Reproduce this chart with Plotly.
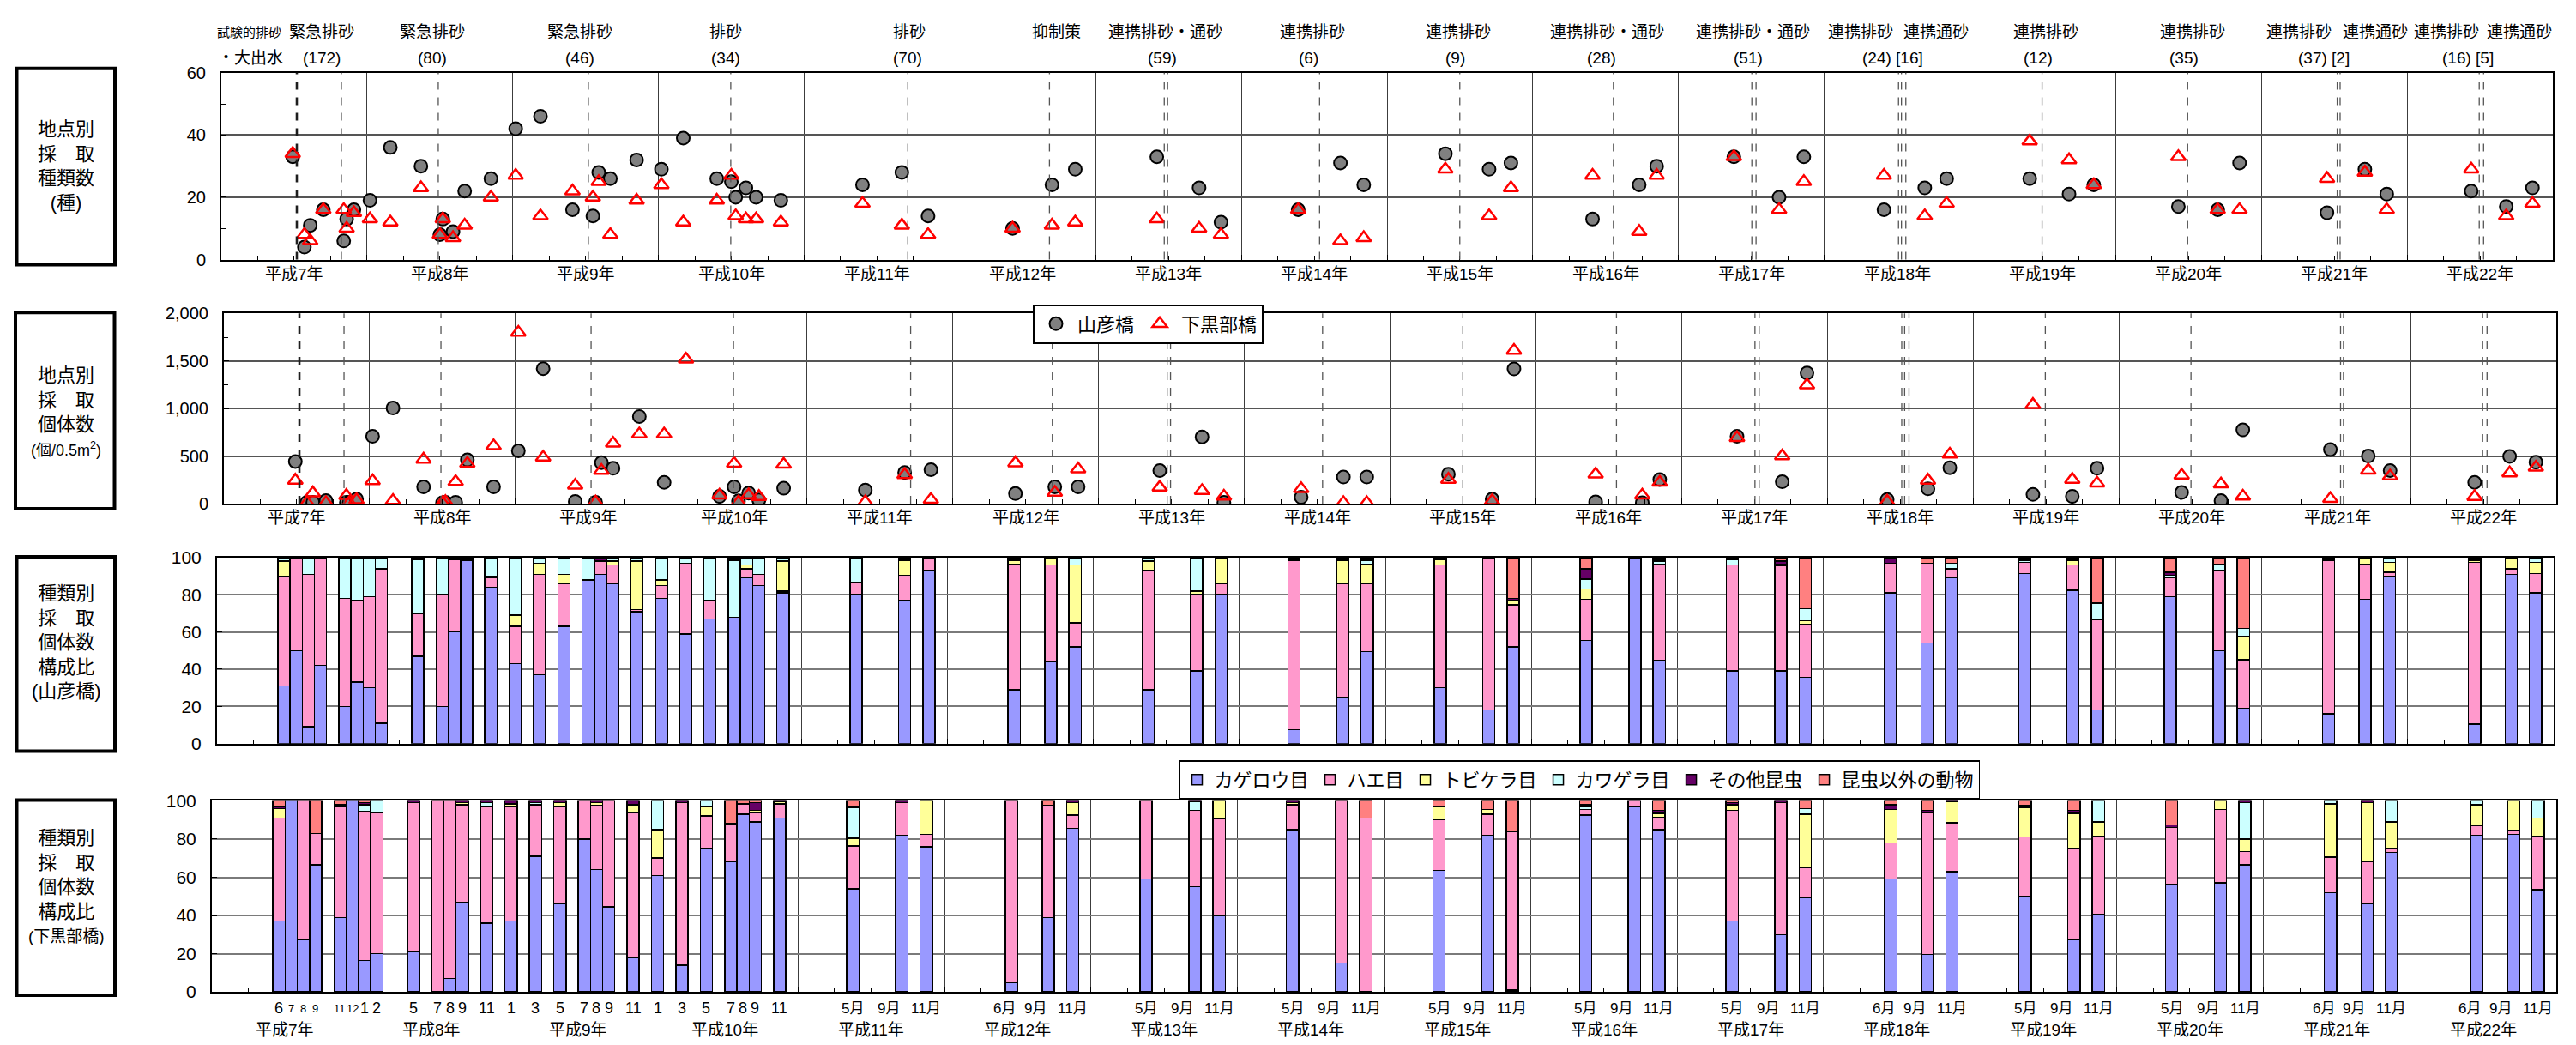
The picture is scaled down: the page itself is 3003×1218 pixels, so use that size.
import plotly.graph_objects as go

W, H = 3003, 1218
FONT = "Liberation Sans, Arial, Noto Sans CJK JP, sans-serif"

# ---------------- data ----------------
years = list(range(1995, 2011))
year_labels = ["平成7年", "平成8年", "平成9年", "平成10年", "平成11年", "平成12年", "平成13年", "平成14年",
               "平成15年", "平成16年", "平成17年", "平成18年", "平成19年", "平成20年", "平成21年", "平成22年"]

# sampling dates (decimal years) of panels 1 and 2
sample_t = [1995.49, 1995.57, 1995.61, 1995.70, 1995.84, 1995.86, 1995.91,
            1996.02, 1996.16, 1996.37, 1996.50, 1996.52, 1996.59, 1996.67, 1996.85,
            1997.02, 1997.19, 1997.41, 1997.55, 1997.59, 1997.67, 1997.85,
            1998.02, 1998.17, 1998.40, 1998.50, 1998.53, 1998.60, 1998.67, 1998.84,
            1999.40, 1999.67, 1999.85, 2000.43, 2000.70, 2000.86,
            2001.42, 2001.71, 2001.86, 2002.39, 2002.68, 2002.84,
            2003.40, 2003.70, 2003.85, 2004.41, 2004.73, 2004.85,
            2005.38, 2005.69, 2005.86, 2006.41, 2006.69, 2006.84,
            2007.41, 2007.68, 2007.85, 2008.43, 2008.70, 2008.85,
            2009.45, 2009.71, 2009.86, 2010.44, 2010.68, 2010.86]

species_yamabiko = [33, 4, 11, 16, 6, 13, 16,
                    19, 36, 30, 8, 13, 9, 22, 26,
                    42, 46, 16, 14, 28, 26, 32,
                    29, 39, 26, 25, 20, 23, 20, 19,
                    24, 28, 14, 10, 24, 29, 33, 23, 12, 16, 31, 24,
                    34, 29, 31, 13, 24, 30, 33, 20, 33, 16, 23, 26,
                    26, 21, 24, 17, 16, 31, 15, 29, 21, 22, 17, 23]
species_shimokurobe = [34, 8, 6, 16, 16, 10, 15,
                       13, 12, 23, 8, 13, 7, 11, 20,
                       27, 14, 22, 20, 25, 8, 19,
                       24, 12, 19, 27, 14, 13, 13, 12,
                       18, 11, 8, 10, 11, 12, 13, 10, 8, 16, 6, 7,
                       29, 14, 23, 27, 9, 27, 33, 16, 25, 27, 14, 18,
                       38, 32, 24, 33, 16, 16, 26, 28, 16, 29, 14, 18]

count_yamabiko = [443, 15, 15, 32, 15, 15, 47,
                  708, 1006, 177, 10, 15, 15, 460, 177,
                  555, 1419, 24, 15, 431, 372, 917,
                  224, None, 77, 177, 30, 112, 38, 162,
                  142, 327, 357, 106, 177, 177, 348, 702, 15, 68, 280, 280,
                  310, 47, 1416, 18, 9, 254, 708, 230, 1375, 44, 156, 378,
                  97, 77, 372, 118, 32, 776, 569, 501, 348, 224, 496, 437]
count_shimokurobe = [245, 10, 112, 10, 85, 10, 40,
                     239, 32, 466, 9, 20, 230, 422, 608,
                     1800, 487, 192, 15, 348, 634, 732,
                     732, 1519, 88, 422, 15, 91, 74, 413,
                     18, 304, 44, 428, 118, 363, 171, 136, 77, 156, 9, 9,
                     254, 30, 1611, 310, 88, 224, 693, 501, 1248, 24, 245, 519,
                     1041, 254, 215, 298, 206, 77, 53, 351, 289, 74, 322, 381]

# sediment flushing events (dashed lines)
event_t = [1995.518, 1995.824, 1996.489, 1997.519, 1998.496, 1999.711, 2000.683,
           2001.471, 2001.494, 2002.537, 2003.499, 2004.553, 2005.503, 2005.532,
           2006.51, 2006.53, 2006.56, 2007.495, 2008.494, 2009.52, 2009.54,
           2010.495, 2010.525]
event_name_t = [1995.19, 1995.69, 1996.45, 1997.46, 1998.46, 1999.72, 2000.73, 2001.48,
                2002.49, 2003.49, 2004.51, 2005.51, 2006.25, 2006.77, 2007.52, 2008.53,
                2009.26, 2009.78, 2010.27, 2010.77]
event_name = ["試験的排砂", "緊急排砂", "緊急排砂", "緊急排砂", "排砂", "排砂", "抑制策", "連携排砂・通砂",
              "連携排砂", "連携排砂", "連携排砂・通砂", "連携排砂・通砂", "連携排砂", "連携通砂", "連携排砂", "連携排砂",
              "連携排砂", "連携通砂", "連携排砂", "連携通砂"]
event_note_t = [1995.20, 1995.69, 1996.45, 1997.46, 1998.46, 1999.71, 2001.46, 2002.46,
                2003.47, 2004.47, 2005.48, 2006.47, 2007.47, 2008.47, 2009.43, 2010.42]
event_note = ["・大出水", "(172)", "(80)", "(46)", "(34)", "(70)", "(59)", "(6)",
              "(9)", "(28)", "(51)", "(24) [16]", "(12)", "(35)", "(37) [2]", "(16) [5]"]

# composition bars: sampling month slots
bar_year = [1995] * 6 + [1996] * 7 + [1997] * 7 + [1998] * 7 + [y for y in range(1999, 2011) for _ in range(3)]
bar_month = [6, 7, 8, 9, 11, 12,
             1, 2, 5, 7, 8, 9, 11,
             1, 3, 5, 7, 8, 9, 11,
             1, 3, 5, 7, 8, 9, 11,
             5, 9, 11, 6, 9, 11, 5, 9, 11, 5, 9, 11, 5, 9, 11, 5, 9, 11,
             5, 9, 11, 6, 9, 11, 5, 9, 11, 5, 9, 11, 6, 9, 11, 6, 9, 11]

categories = ["カゲロウ目", "ハエ目", "トビケラ目", "カワゲラ目", "その他昆虫", "昆虫以外の動物"]
cat_colors = ["#9999FF", "#FF99CC", "#FFFF99", "#CCFFFF", "#660066", "#FF8080"]

# 山彦橋 composition (%)
y_kagerou = [31, 50, 9, 42, 20, 33, 30, 11, 47, 20, 60, 98.5, 84, 43, 37, 63, 88, 91, 86, 71,
             78, 59, 67, 68, 89, 85, 81, 80, 77, 93, 29, 44, 52, 29, 39, 80, 7.5, 25, 49.5,
             30, 18, 52, 55.5, 100, 44.5, 39, 39, 35.5, 81, 54, 89, 91.5, 82.5, 18,
             79, 50, 19, 16, 77.5, 90, 10.5, 91, 81]
y_hae = [59, 50, 82, 58, 58, 44, 49, 83, 23, 60, 39, 0, 5, 20, 54, 23, 0, 7, 10, 1,
         7, 38, 10, 0, 5, 6, 1, 6.5, 13.5, 7, 67.5, 52, 13, 64, 41, 6, 91, 61, 36.5,
         66, 82, 22.5, 22, 0, 52, 57, 56.5, 28.5, 16, 43, 5, 6, 13.5, 48.5,
         10, 43, 26, 82.5, 19, 2, 87, 3, 10.5]
y_tobikera = [8, 0, 0, 0, 0, 0, 0, 0, 0, 0, 0, 0, 1, 6, 6, 5, 0, 0, 2, 26,
              3, 0, 0, 0, 2, 0, 16, 0, 8, 0, 2, 4, 31, 5, 2, 14, 1.5, 12.5, 10.5,
              3, 0, 2.5, 5.5, 0, 0, 0, 0, 2, 0, 0, 0, 0, 2.5, 0,
              0, 0, 12.5, 0, 3.5, 5.5, 1, 6, 6]
y_kawagera = [2, 0, 9, 0, 22, 23, 21, 6, 29, 20, 0, 0, 10, 31, 3, 9, 12, 0, 2, 2,
              12, 3, 23, 30.5, 4, 9, 2, 13.5, 0, 0, 0, 0, 4, 2, 18, 0, 0, 0, 2,
              0, 0, 0, 5.5, 0, 1.5, 3, 1, 6.5, 0, 0, 3, 1, 1.5, 9,
              1.5, 3.5, 4.5, 0, 0, 2.5, 0, 0, 2.5]
y_sonota = [0, 0, 0, 0, 0, 0, 0, 0, 1, 0, 1, 1.5, 0, 0, 0, 0, 0, 2, 0, 0,
            0, 0, 0, 0, 0, 0, 0, 0, 1.5, 0, 1.5, 0, 0, 0, 0, 0, 0, 1.5, 1.5,
            1, 0, 1, 5.5, 0, 1, 1, 1.5, 0, 3, 0, 0, 1.5, 0, 0,
            1.5, 0, 0, 1.5, 0, 0, 1.5, 0, 0]
y_igai = [0, 0, 0, 0, 0, 0, 0, 0, 0, 0, 0, 0, 0, 0, 0, 0, 0, 0, 0, 0,
          0, 0, 0, 1.5, 0, 0, 0, 0, 0, 0, 0, 0, 0, 0, 0, 0, 0, 0, 0,
          0, 0, 22, 6, 0, 1, 0, 2, 27.5, 0, 3, 3, 0, 0, 24.5,
          8, 3.5, 38, 0, 0, 0, 0, 0, 0]

# 下黒部橋 composition (%)
s_kagerou = [37, 100, 27.5, 66.5, 39, 100, 16.5, 20, 21, 0, 7, 47, 36, 37, 71, 46, 80, 64, 44.5, 18,
             61, 14, 75, 68, 93, 89, 91, 54, 82, 76, 5, 39, 85.5, 59, 55, 40, 85, 15, 0,
             63.5, 82, 1, 92.5, 97, 85, 37, 30, 49.5, 59, 19.5, 63, 50, 27.5, 40.5,
             56.5, 57, 66.5, 52, 46, 73, 82, 82.5, 53.5]
s_hae = [54, 0, 72.5, 16.5, 58, 0, 78, 74, 78, 100, 93, 51, 61, 60, 27, 51, 20, 33.5, 55.5, 76,
         9, 85, 17, 20, 5.5, 5, 7.5, 22.5, 17, 6.5, 95, 58.5, 7, 41, 40, 50.5, 13, 85, 91,
         26.5, 11, 83, 3, 3, 6.5, 58, 69, 15.5, 19, 74.5, 25.5, 31, 47.5, 41,
         29.5, 38.5, 7, 18.5, 22, 2, 5, 2, 28]
s_tobikera = [5, 0, 0, 0, 1, 0, 0, 0, 0, 0, 0, 1, 0, 1.5, 0, 2, 0, 1.5, 0, 4,
              15, 0, 5, 0, 0, 1, 1, 4, 0, 17.5, 0, 0, 6.5, 0, 0, 9.5, 1, 0, 0,
              7, 2.5, 0, 0, 0, 2, 3, 0, 28, 17.5, 0, 11, 15.5, 18.5, 7.5,
              0, 4.5, 6.5, 28, 31, 14, 11, 15.5, 9.5]
s_kawagera = [0, 0, 0, 0, 0, 0, 3.5, 6, 0, 0, 0, 0, 2, 0, 1, 0, 0, 0, 0, 0,
              15, 0, 3, 0, 0, 0, 0, 16, 0, 0, 0, 0, 0, 0, 4.5, 0, 0, 0, 0,
              0, 0, 0, 1.5, 0, 0, 0, 0, 3, 0, 0, 0, 0, 0, 11,
              0, 0, 19, 1.5, 0, 11, 2, 0, 9]
s_sonota = [1, 0, 0, 0, 0, 0, 1, 0, 1, 0, 0, 1, 1, 1.5, 1, 1, 0, 1, 0, 2,
            0, 1, 0, 0, 0, 4, 0.5, 0, 1, 0, 0, 0, 1, 0, 0.5, 0, 1, 0, 0,
            0, 0, 0, 1, 0, 1.5, 1, 1, 0, 2.5, 1, 0.5, 1, 1.5, 0,
            1.5, 0, 1, 0, 1, 0, 0, 0, 0]
s_igai = [3, 0, 0, 17, 2, 0, 1, 0, 0, 0, 0, 0, 0, 0, 0, 0, 0, 0, 0, 0,
          0, 0, 0, 12, 1.5, 1, 0, 3.5, 0, 0, 0, 2.5, 0, 0, 0, 0, 0, 0, 9,
          3, 4.5, 16, 2, 0, 5, 1, 0, 4, 2, 5, 0, 2.5, 5, 0,
          12.5, 0, 0, 0, 0, 0, 0, 0, 0]

yama_series = [y_kagerou, y_hae, y_tobikera, y_kawagera, y_sonota, y_igai]
shimo_series = [s_kagerou, s_hae, s_tobikera, s_kawagera, s_sonota, s_igai]

# ---------------- layout geometry (pixels) ----------------
PANELS = {1: (250, 2968, 66, 288), 2: (253, 2972, 352, 578),
          3: (245, 2969, 642, 863), 4: (239, 2972, 931, 1158)}


def xdom(p):
    x0, x1, _, _ = PANELS[p]
    return [x0 / W, x1 / W]


def ydom(p):
    _, _, y0, y1 = PANELS[p]
    return [1 - y1 / H, 1 - y0 / H]


fig = go.Figure()

# ---------- panel 1 & 2 scatter ----------
circ = dict(symbol="circle", size=15, color="#808080", line=dict(color="black", width=2))
tri = dict(symbol="triangle-up-open", size=15, color="#FF0000", line=dict(width=2.5))

fig.add_trace(go.Scatter(x=sample_t, y=species_yamabiko, mode="markers", marker=circ,
                         xaxis="x", yaxis="y", showlegend=False, cliponaxis=False))
fig.add_trace(go.Scatter(x=sample_t, y=species_shimokurobe, mode="markers", marker=tri,
                         xaxis="x", yaxis="y", showlegend=False, cliponaxis=False))
fig.add_trace(go.Scatter(x=sample_t, y=count_yamabiko, mode="markers", marker=circ, name="山彦橋",
                         xaxis="x2", yaxis="y2", legend="legend"))
fig.add_trace(go.Scatter(x=sample_t, y=count_shimokurobe, mode="markers", marker=tri, name="下黒部橋",
                         xaxis="x2", yaxis="y2", legend="legend"))

# ---------- panel 3 & 4 stacked composition bars ----------
bar_x = [y + (m - 0.5) / 12 for y, m in zip(bar_year, bar_month)]
for name, col, vals in zip(categories, cat_colors, yama_series):
    fig.add_trace(go.Bar(x=bar_x, y=[v if v else None for v in vals], width=1 / 12,
                         marker=dict(color=col, line=dict(color="black", width=1.5)),
                         name=name, xaxis="x3", yaxis="y3", showlegend=False))
for name, col, vals in zip(categories, cat_colors, shimo_series):
    fig.add_trace(go.Bar(x=bar_x, y=[v if v else None for v in vals], width=1 / 12,
                         marker=dict(color=col, line=dict(color="black", width=1.5)),
                         name=name, xaxis="x4", yaxis="y4", legend="legend2"))


# ---------- axes ----------
def xaxis_cfg(p, gridvals):
    return dict(domain=xdom(p), anchor="y" if p == 1 else f"y{p}", range=[1995, 2011],
                tickmode="array", tickvals=gridvals, showticklabels=False,
                ticks="inside", ticklen=6, tickcolor="black",
                showgrid=True, gridcolor="#3c3c3c", gridwidth=1,
                minor=dict(tick0=1995, dtick=0.25, ticks="inside", ticklen=5, tickcolor="black", showgrid=False),
                showline=True, linecolor="black", linewidth=2, mirror=True, zeroline=False)


def yaxis_cfg(p, rng, vals, minor_dt, fmt=None, suffix=None, fsize=20, gridcol="#555555"):
    d = dict(domain=ydom(p), anchor="x" if p == 1 else f"x{p}", range=rng,
             tickmode="array", tickvals=vals, ticks="inside", ticklen=6, tickcolor="black",
             tickfont=dict(family=FONT, size=fsize, color="black"), ticklabelstandoff=12,
             showgrid=True, gridcolor=gridcol, gridwidth=1.5,
             minor=dict(tick0=0, dtick=minor_dt, ticks="inside", ticklen=5, tickcolor="black", showgrid=False),
             showline=True, linecolor="black", linewidth=2, mirror=True, zeroline=False)
    if fmt:
        d["tickformat"] = fmt
    if suffix:
        d["ticksuffix"] = suffix
    return d


year_bounds = list(range(1995, 2012))
later_bounds = list(range(1999, 2012))

layout = dict(
    width=W, height=H, margin=dict(l=0, r=0, t=0, b=0),
    paper_bgcolor="white", plot_bgcolor="white",
    font=dict(family=FONT, color="black"),
    barmode="stack", barnorm="percent",
    xaxis=xaxis_cfg(1, year_bounds), xaxis2=xaxis_cfg(2, year_bounds),
    xaxis3=xaxis_cfg(3, later_bounds), xaxis4=xaxis_cfg(4, later_bounds),
    yaxis=yaxis_cfg(1, [0, 60], [0, 20, 40, 60], 10),
    yaxis2=yaxis_cfg(2, [0, 2000], [0, 500, 1000, 1500, 2000], 250, fmt=","),
    yaxis3=yaxis_cfg(3, [0, 100], [0, 20, 40, 60, 80, 100], 20, suffix="%", fsize=21, gridcol="#7a7a7a"),
    yaxis4=yaxis_cfg(4, [0, 100], [0, 20, 40, 60, 80, 100], 20, suffix="%", fsize=21, gridcol="#7a7a7a"),
    legend=dict(x=1196 / W, y=1 - 341 / H, xanchor="left", yanchor="top", orientation="h",
                bgcolor="white", bordercolor="black", borderwidth=2, itemwidth=40,
                font=dict(family=FONT, size=22, color="black"), traceorder="normal"),
    legend2=dict(x=1366 / W, y=1 - 883 / H, xanchor="left", yanchor="top", orientation="h",
                 bgcolor="white", bordercolor="black", borderwidth=1.5,
                 font=dict(family=FONT, size=22, color="black"), traceorder="normal"),
)
fig.update_layout(**layout)

# ---------- shapes ----------
shapes = []
for i, t in enumerate(event_t):
    for xr, yr in (("x", "y domain"), ("x2", "y2 domain")):
        shapes.append(dict(type="line", xref=xr, yref=yr, x0=t, x1=t, y0=0, y1=1, layer="above",
                           line=dict(color="#1e1e1e" if i == 0 else "#555555",
                                     width=2.6 if i == 0 else 1.3, dash="dash")))

label_boxes = [(11.5, 126, 61, 294), (10, 125.5, 351, 584), (11.5, 126, 641, 872), (11.5, 126, 930, 1162)]
for x0, x1, y0, y1 in label_boxes:
    shapes.append(dict(type="rect", xref="paper", yref="paper", x0=x0 / W, x1=x1 / W,
                       y0=1 - y1 / H, y1=1 - y0 / H, layer="above",
                       line=dict(color="black", width=4), fillcolor="white"))
fig.update_layout(shapes=shapes)

# ---------- annotations ----------
ann = []
# event names and counts above panel 1
for t, txt in zip(event_name_t, event_name):
    ann.append(dict(x=t, xref="x", y=1 - 18 / H, yref="paper", text=txt, showarrow=False,
                    xanchor="center", yanchor="middle",
                    font=dict(family=FONT, size=15 if txt == "試験的排砂" else 19, color="black")))
for t, txt in zip(event_note_t, event_note):
    ann.append(dict(x=t, xref="x", y=1 - 48 / H, yref="paper", text=txt, showarrow=False,
                    xanchor="center", yanchor="middle", font=dict(family=FONT, size=19, color="black")))

# year labels under panel 1, 2 and 4
for y, lab in zip(years, year_labels):
    for xr, yr, sh in (("x", "y domain", -17), ("x2", "y2 domain", -16), ("x4", "y4 domain", -44)):
        ann.append(dict(x=y + 0.5, xref=xr, y=0, yref=yr, yshift=sh, text=lab, showarrow=False,
                        xanchor="center", yanchor="middle", font=dict(family=FONT, size=19, color="black")))

# month labels under panel 4
for bx, yv, m in zip(bar_x, bar_year, bar_month):
    if yv <= 1998:
        txt = str(m)
        size = 13 if (yv == 1995 and m in (7, 8, 9, 11, 12)) else 18
        shift = 0
    else:
        txt = f"{m}月"
        size = 17
        shift = {5: 0, 6: -8, 9: -15, 11: 0}[m]
    ann.append(dict(x=bx, xref="x4", y=0, yref="y4 domain", yshift=-19, xshift=shift, text=txt,
                    showarrow=False, xanchor="center", yanchor="middle",
                    font=dict(family=FONT, size=size, color="black")))

# left-hand caption boxes
box_texts = [
    ("地点別<br>採　取<br>種類数<br>(種)", 177),
    ("地点別<br>採　取<br>個体数<br><span style='font-size:18px'>(個/0.5m<sup>2</sup>)</span>", 469),
    ("種類別<br>採　取<br>個体数<br>構成比<br>(山彦橋)", 743),
    ("種類別<br>採　取<br>個体数<br>構成比<br><span style='font-size:19px'>(下黒部橋)</span>", 1033),
]
for txt, cy in box_texts:
    ann.append(dict(x=69 / W, xref="paper", y=1 - cy / H, yref="paper", text=txt, showarrow=False,
                    xanchor="center", yanchor="middle", align="center",
                    font=dict(family=FONT, size=22, color="black")))

fig.update_layout(annotations=ann)

fig.write_html("out.html")
